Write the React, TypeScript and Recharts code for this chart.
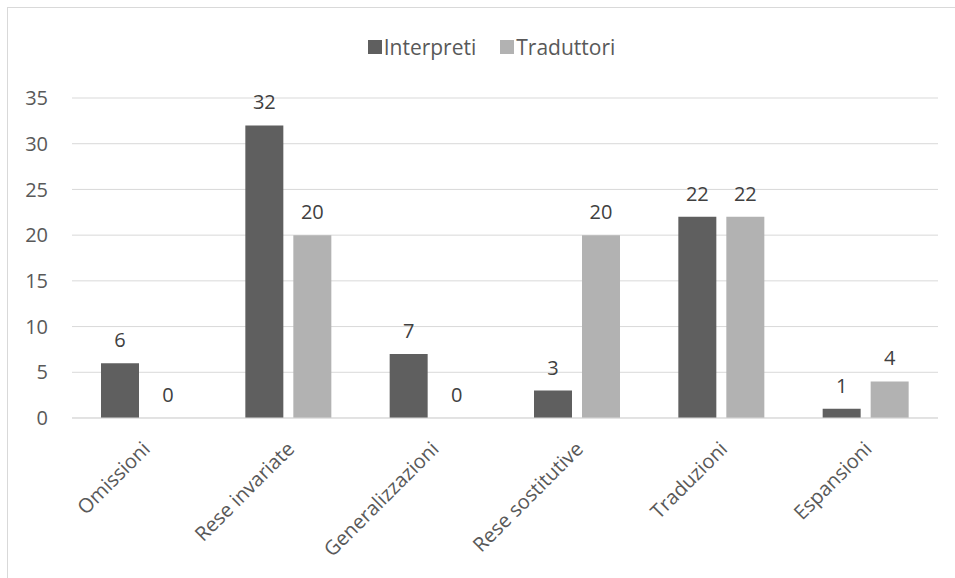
import React from "react";
import {
  BarChart,
  Bar,
  XAxis,
  YAxis,
  CartesianGrid,
  Legend,
  LabelList,
} from "recharts";

const categories = [
  "Omissioni",
  "Rese invariate",
  "Generalizzazioni",
  "Rese sostitutive",
  "Traduzioni",
  "Espansioni",
];
const interpreti = [6, 32, 7, 3, 22, 1];
const traduttori = [0, 20, 0, 20, 22, 4];
const yTicks = [0, 5, 10, 15, 20, 25, 30, 35];

const DARK = "#5f5f5f";
const LIGHT = "#b2b2b2";
const FONT = "'Open Sans', sans-serif";

const data = categories.map((name, i) => ({
  name,
  Interpreti: interpreti[i],
  Traduttori: traduttori[i],
}));

function AngledTick({ x, y, payload }: { x?: number; y?: number; payload?: { value: string } }) {
  const tx = (x ?? 0) - 3;
  const ty = (y ?? 0) + 20;
  return (
    <text
      x={tx}
      y={ty}
      dy="0.72em"
      textAnchor="end"
      transform={`rotate(-45, ${tx}, ${ty})`}
      fill="#595959"
      fontSize={20}
      fontFamily={FONT}
    >
      {payload?.value}
    </text>
  );
}

function LegendBox() {
  const items = [
    { label: "Interpreti", color: DARK },
    { label: "Traduttori", color: LIGHT },
  ];
  return (
    <div
      style={{
        display: "flex",
        justifyContent: "center",
        alignItems: "center",
        height: 24,
        gap: 24,
        paddingLeft: 19,
        fontFamily: FONT,
        fontSize: 21,
        color: "#595959",
      }}
    >
      {items.map((it) => (
        <span key={it.label} style={{ display: "flex", alignItems: "center" }}>
          <span
            style={{
              display: "inline-block",
              width: 14,
              height: 14,
              background: it.color,
              marginRight: 2,
            }}
          />
          {it.label}
        </span>
      ))}
    </div>
  );
}

export default function App() {
  return (
    <div
      style={{
        position: "fixed",
        left: 0,
        top: 0,
        width: 955,
        height: 578,
        background: "#fff",
        overflow: "hidden",
      }}
    >
      <div
        style={{
          position: "absolute",
          left: 7,
          top: 7,
          width: 960,
          height: 580,
          borderTop: "1px solid #d9d9d9",
          borderLeft: "1px solid #d9d9d9",
        }}
      >
        <BarChart
          width={948}
          height={571}
          data={data}
          margin={{ top: 66, right: 18, left: 0, bottom: 0 }}
          barSize={38}
          barGap={10}
        >
          <CartesianGrid vertical={false} stroke="#d9d9d9" />
          <Legend
            verticalAlign="top"
            content={<LegendBox />}
            wrapperStyle={{ top: 27, left: 0, width: 948 }}
          />
          <XAxis
            dataKey="name"
            height={161}
            axisLine={{ stroke: "#d9d9d9" }}
            tickLine={false}
            tickSize={0}
            interval={0}
            tick={<AngledTick />}
          />
          <YAxis
            width={64}
            domain={[0, 35]}
            ticks={yTicks}
            axisLine={false}
            tickLine={false}
            tickSize={0}
            tickMargin={24}
            tick={{ fill: "#595959", fontSize: 20, fontFamily: FONT }}
          />
          <Bar dataKey="Interpreti" fill={DARK} minPointSize={0.001} isAnimationActive={false}>
            <LabelList
              dataKey="Interpreti"
              position="top"
              offset={16}
              fill="#404040"
              fontSize={20}
              fontFamily={FONT}
            />
          </Bar>
          <Bar dataKey="Traduttori" fill={LIGHT} minPointSize={0.001} isAnimationActive={false}>
            <LabelList
              dataKey="Traduttori"
              position="top"
              offset={16}
              fill="#404040"
              fontSize={20}
              fontFamily={FONT}
            />
          </Bar>
        </BarChart>
      </div>
    </div>
  );
}
